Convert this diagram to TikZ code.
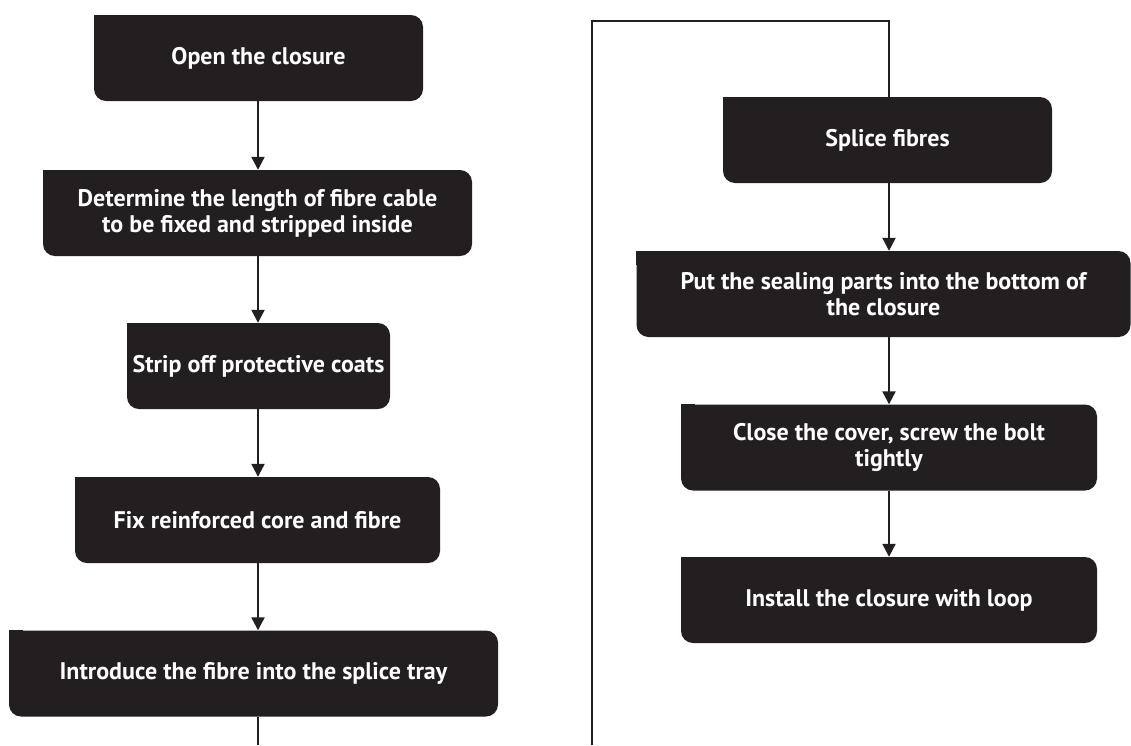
\documentclass[tikz,border=0pt]{standalone}
\usepackage{fontspec}
\setmainfont{PT Sans}
\usepackage{tikz}
\usetikzlibrary{arrows.meta}
\definecolor{boxfill}{HTML}{231F20}

\begin{document}
\begin{tikzpicture}[x=1pt,y=-1pt]
\tikzstyle{every node}+=[inner sep=0pt]
\tikzstyle{stepbox}=[fill=boxfill, rounded corners=12pt, text=white, font=\fontsize{24}{26}\selectfont\bfseries, align=center, minimum height=86pt]
\tikzstyle{wire}=[draw=boxfill, line width=2.2pt]
\tikzstyle{link}=[wire, -{Triangle[length=13pt,width=13pt]}]
\useasboundingbox (0,0) rectangle (1131,745);
% left column
\node[stepbox, minimum width=329pt] (open) at (258.5,58) {Open the closure};
\node[stepbox, minimum width=429pt] (length) at (257.5,213) {Determine the length of fibre cable\\to be fixed and stripped inside};
\node[stepbox, minimum width=263pt] (strip) at (258.5,366) {Strip off protective coats};
\node[stepbox, minimum width=365pt] (fix) at (257.5,520) {Fix reinforced core and fibre};
\node[stepbox, minimum width=489pt] (tray) at (253.5,673.5) {Introduce the fibre into the splice tray};
% right column
\node[stepbox, minimum width=329pt] (splice) at (887.5,140) {Splice fibres};
\node[stepbox, minimum width=494pt] (seal) at (883.5,294) {Put the sealing parts into the bottom of\\the closure};
\node[stepbox, minimum width=416pt] (cover) at (889,447.5) {Close the cover, screw the bolt\\tightly};
\node[stepbox, minimum width=416pt] (install) at (889,600) {Install the closure with loop};
% square top-left corners
\foreach \n in {open,length,strip,fix,tray,splice,seal,cover,install}
  \fill[boxfill] (\n.north west) rectangle ++(14pt,-14pt);
% connectors
\draw[link] (open.south -| 258,0) -- (258,170 |- length.north);
\draw[link] (258,0 |- length.south) -- (258,0 |- strip.north);
\draw[link] (258,0 |- strip.south) -- (258,0 |- fix.north);
\draw[link] (258,0 |- fix.south) -- (258,0 |- tray.north);
\coordinate (leftend) at (258,745);
\draw[wire] (258,0 |- tray.south) -- (leftend);
\coordinate (rightend) at (592,745);
\coordinate (loopleft) at (592,21);
\coordinate (loopright) at (889,21);
\draw[wire] (rightend) -- (loopleft) -- (loopright) -- (loopright |- splice.north);
\draw[link] (889,0 |- splice.south) -- (889,0 |- seal.north);
\draw[link] (889,0 |- seal.south) -- (889,0 |- cover.north);
\draw[link] (889,0 |- cover.south) -- (889,0 |- install.north);
\end{tikzpicture}
\end{document}
